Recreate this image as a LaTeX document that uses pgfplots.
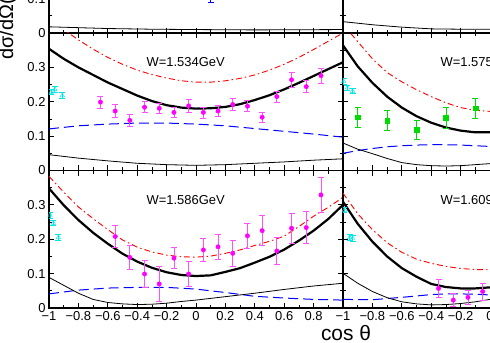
\documentclass[border=0pt]{standalone}
\usepackage{fontspec}
\setmainfont{Liberation Sans}
\usepackage{pgfplots}
\pgfplotsset{compat=1.18}

\definecolor{mag}{RGB}{255,0,255}
\definecolor{magbar}{RGB}{255,80,255}
\definecolor{cyn}{RGB}{0,230,230}
\definecolor{grn}{RGB}{0,220,0}

\pgfplotsset{
  panel/.style={
    scale only axis, width=294bp, height=137.5bp, anchor=south west,
    xmin=-1, xmax=1, ymin=0, ymax=0.4,
    xtick={-1,-0.8,-0.6,-0.4,-0.2,0,0.2,0.4,0.6,0.8,1},
    minor xtick={-0.9,-0.7,-0.5,-0.3,-0.1,0.1,0.3,0.5,0.7,0.9},
    ytick={0,0.1,0.2,0.3,0.4},
    minor ytick={0.05,0.15,0.25,0.35},
    tick align=inside, major tick length=5bp, minor tick length=3bp,
    axis line style={line width=1.4bp},
    every tick/.append style={black, line width=0.8bp},
    xticklabels={}, yticklabels={},
    ticklabel style={font=\fontsize{13}{15}\selectfont},
  },
  ylab/.style={yticklabels={0,0.1,0.2,0.3,{}}},
  xlabL/.style={xticklabels={−1,−0.8,−0.6,−0.4,−0.2,0,0.2,0.4,0.6,0.8,{}}},
  xlabR/.style={xticklabels={−1,−0.8,−0.6,−0.4,−0.2,0,0.2,0.4,0.6,0.8,1}},
  thick curve/.style={black, line width=2.2bp, no marks},
  thin curve/.style={black, line width=0.8bp, no marks},
  red curve/.style={red, line width=0.9bp, no marks, dash pattern=on 6bp off 3bp on 1.5bp off 3bp},
  blue curve/.style={blue, line width=1bp, no marks, dash pattern=on 10bp off 5bp},
  errpts/.style={only marks,
    error bars/y dir=both, error bars/y explicit,
    error bars/error bar style={line width=0.8bp},
    error bars/error mark options={rotate=90, line width=0.8bp, mark size=3bp}},
  magpts/.style={errpts, color=mag, mark=*, mark size=2.2bp,
    error bars/error bar style={magbar, line width=0.9bp}},
  cyanpts/.style={errpts, color=cyn, mark=triangle, mark size=2.6bp},
  greenpts/.style={errpts, color=grn, mark=square*, mark size=2.4bp},
}
\tikzset{wlabel/.style={anchor=west, font=\fontsize{13}{15}\selectfont}}

\begin{document}
\begin{tikzpicture}
\clip[use as bounding box] (0,0) rectangle (490bp,343bp);

% ---------- top row (only its lower part is in view)
\begin{axis}[panel, ylab, at={(49bp,310bp)}]
\addplot[thin curve] coordinates {(-1,0.018)(-0.6,0.013)(-0.3,0.011)(0,0.01)(0.4,0.009)(1,0.01)};
\addplot[errpts, color=blue, mark=*, mark size=2bp] table[y error=e] {
x y e
0.1 0.12 0.03
};
\end{axis}
\begin{axis}[panel, at={(343bp,310bp)}]
\addplot[thin curve] coordinates {(-1,0.033)(-0.8,0.024)(-0.6,0.017)(-0.4,0.012)(-0.2,0.011)(0,0.011)(0.2,0.011)};
\end{axis}

% ---------- middle row
\begin{axis}[panel, ylab, at={(49bp,172.5bp)}]
\addplot[red curve] coordinates {(-1,0.44)(-0.9,0.41)(-0.8,0.38)(-0.7,0.353)(-0.6,0.329)(-0.5,0.309)(-0.4,0.292)(-0.3,0.279)(-0.2,0.269)(-0.1,0.261)(0,0.257)(0.1,0.257)(0.2,0.261)(0.3,0.268)(0.4,0.278)(0.5,0.292)(0.6,0.309)(0.7,0.329)(0.8,0.352)(0.9,0.376)(1,0.4)};
\addplot[thick curve] coordinates {(-1,0.354)(-0.9,0.325)(-0.8,0.3)(-0.7,0.278)(-0.6,0.256)(-0.5,0.237)(-0.4,0.218)(-0.3,0.202)(-0.2,0.19)(-0.1,0.183)(0,0.18)(0.1,0.181)(0.2,0.185)(0.3,0.193)(0.4,0.205)(0.5,0.219)(0.6,0.236)(0.7,0.255)(0.8,0.275)(0.9,0.295)(1,0.315)};
\addplot[blue curve] coordinates {(-1,0.121)(-0.8,0.13)(-0.6,0.135)(-0.4,0.138)(-0.2,0.138)(0,0.135)(0.2,0.13)(0.4,0.122)(0.6,0.114)(0.8,0.106)(1,0.097)};
\addplot[thin curve] coordinates {(-1,0.046)(-0.8,0.036)(-0.6,0.028)(-0.4,0.021)(-0.2,0.017)(0,0.015)(0.2,0.017)(0.4,0.021)(0.6,0.025)(0.8,0.03)(1,0.034)};
\addplot[cyanpts] table[y error=e] {
x y e
-0.985 0.228 0.008
-0.96 0.236 0.008
-0.91 0.218 0.008
};
\addplot[magpts] table[y error=e] {
x y e
-0.65 0.199 0.018
-0.55 0.173 0.018
-0.45 0.146 0.017
-0.35 0.184 0.016
-0.25 0.181 0.015
-0.15 0.169 0.015
-0.05 0.188 0.018
0.05 0.169 0.016
0.15 0.173 0.016
0.25 0.192 0.017
0.35 0.187 0.016
0.45 0.155 0.015
0.55 0.215 0.016
0.65 0.264 0.022
0.75 0.244 0.018
0.85 0.276 0.022
};
\node[wlabel] at (axis cs:-0.36,0.315) {W=1.534GeV};
\end{axis}
\begin{axis}[panel, at={(343bp,172.5bp)}]
\addplot[red curve] coordinates {(-1,0.43)(-0.95,0.4)(-0.9,0.375)(-0.8,0.325)(-0.7,0.285)(-0.6,0.258)(-0.5,0.235)(-0.4,0.215)(-0.3,0.197)(-0.2,0.183)(-0.1,0.175)(0,0.172)(0.1,0.172)};
\addplot[thick curve] coordinates {(-1,0.364)(-0.9,0.303)(-0.8,0.255)(-0.7,0.215)(-0.6,0.183)(-0.5,0.158)(-0.4,0.139)(-0.3,0.125)(-0.2,0.116)(-0.1,0.111)(0,0.111)(0.1,0.113)};
\addplot[blue curve] coordinates {(-1,0.05)(-0.9,0.058)(-0.8,0.064)(-0.7,0.069)(-0.6,0.072)(-0.5,0.074)(-0.4,0.075)(-0.3,0.075)(-0.2,0.074)(-0.1,0.072)(0,0.07)(0.1,0.068)};
\addplot[thin curve] coordinates {(-1,0.08)(-0.9,0.062)(-0.8,0.049)(-0.7,0.035)(-0.6,0.023)(-0.5,0.017)(-0.4,0.014)(-0.3,0.013)(-0.2,0.014)(-0.1,0.017)(0,0.02)(0.1,0.023)};
\addplot[cyanpts] table[y error=e] {
x y e
-0.995 0.259 0.008
-0.97 0.241 0.008
-0.935 0.231 0.008
};
\addplot[greenpts] table[y error=e] {
x y e
-0.9 0.155 0.03
-0.7 0.146 0.03
-0.5 0.118 0.027
-0.3 0.153 0.03
-0.1 0.181 0.03
};
\node[wlabel] at (axis cs:-0.36,0.315) {W=1.575GeV};
\end{axis}

% ---------- bottom row
\begin{axis}[panel, ylab, xlabL, at={(49bp,35bp)}]
\addplot[red curve] coordinates {(-1,0.383)(-0.9,0.337)(-0.8,0.294)(-0.7,0.26)(-0.6,0.228)(-0.5,0.198)(-0.4,0.177)(-0.3,0.163)(-0.2,0.154)(-0.1,0.149)(0,0.148)(0.1,0.151)(0.2,0.159)(0.3,0.169)(0.4,0.182)(0.5,0.194)(0.6,0.209)(0.7,0.237)(0.8,0.267)(0.9,0.293)(1,0.322)};
\addplot[thick curve] coordinates {(-1,0.348)(-0.9,0.299)(-0.8,0.256)(-0.7,0.219)(-0.6,0.187)(-0.5,0.158)(-0.4,0.135)(-0.3,0.117)(-0.2,0.104)(-0.1,0.096)(0,0.093)(0.1,0.095)(0.2,0.105)(0.3,0.116)(0.4,0.132)(0.5,0.149)(0.6,0.17)(0.7,0.196)(0.8,0.225)(0.9,0.259)(1,0.3)};
\addplot[blue curve] coordinates {(-1,0.041)(-0.8,0.052)(-0.6,0.058)(-0.4,0.06)(-0.2,0.06)(0,0.055)(0.2,0.045)(0.4,0.034)(0.6,0.029)(0.8,0.025)(1,0.023)};
\addplot[thin curve] coordinates {(-1,0.089)(-0.9,0.066)(-0.8,0.043)(-0.7,0.025)(-0.6,0.016)(-0.5,0.012)(-0.4,0.01)(-0.3,0.011)(-0.2,0.014)(-0.1,0.019)(0,0.023)(0.2,0.033)(0.4,0.043)(0.6,0.054)(0.8,0.064)(1,0.072)};
\addplot[cyanpts] table[y error=e] {
x y e
-0.993 0.27 0.008
-0.97 0.247 0.008
-0.937 0.205 0.008
};
\addplot[magpts] table[y error=e] {
x y e
-0.55 0.208 0.033
-0.45 0.147 0.036
-0.35 0.099 0.04
-0.25 0.07 0.05
-0.15 0.145 0.031
-0.05 0.099 0.036
0.05 0.169 0.034
0.15 0.178 0.036
0.25 0.159 0.037
0.35 0.21 0.037
0.45 0.225 0.044
0.55 0.166 0.039
0.65 0.232 0.043
0.75 0.234 0.047
0.85 0.329 0.051
};
\node[wlabel] at (axis cs:-0.36,0.315) {W=1.586GeV};
\end{axis}
\begin{axis}[panel, xlabR, at={(343bp,35bp)}]
\addplot[red curve] coordinates {(-1,0.334)(-0.9,0.274)(-0.8,0.228)(-0.7,0.19)(-0.6,0.162)(-0.5,0.142)(-0.4,0.13)(-0.3,0.121)(-0.2,0.115)(-0.1,0.112)(0,0.111)(0.2,0.115)};
\addplot[thick curve] coordinates {(-1,0.309)(-0.9,0.245)(-0.8,0.193)(-0.7,0.15)(-0.6,0.116)(-0.5,0.091)(-0.4,0.07)(-0.3,0.061)(-0.2,0.057)(-0.1,0.057)(0,0.06)(0.2,0.07)};
\addplot[blue curve] coordinates {(-1,0.025)(-0.8,0.024)(-0.6,0.031)(-0.4,0.039)(-0.3,0.041)(-0.2,0.041)(-0.1,0.04)(0,0.038)(0.2,0.035)};
\addplot[thin curve] coordinates {(-1,0.101)(-0.9,0.072)(-0.8,0.048)(-0.7,0.03)(-0.6,0.018)(-0.5,0.012)(-0.4,0.009)(-0.3,0.01)(-0.2,0.013)(-0.1,0.018)(0,0.025)(0.2,0.035)};
\addplot[cyanpts] table[y error=e] {
x y e
-0.99 0.285 0.008
-0.955 0.205 0.008
-0.935 0.203 0.008
};
\addplot[magpts] table[y error=e] {
x y e
-0.35 0.057 0.025
-0.25 0.023 0.019
-0.15 0.031 0.021
-0.05 0.048 0.025
};
\node[wlabel] at (axis cs:-0.36,0.315) {W=1.609GeV};
\end{axis}

\node[rotate=90, anchor=base west, inner sep=0, font=\fontsize{20}{24}\selectfont] at (13bp,283bp) {dσ/dΩ(μb/sr)};
\node[anchor=base, inner sep=0, font=\fontsize{21}{25}\selectfont] at (346bp,3bp) {cos θ};
\end{tikzpicture}
\end{document}
